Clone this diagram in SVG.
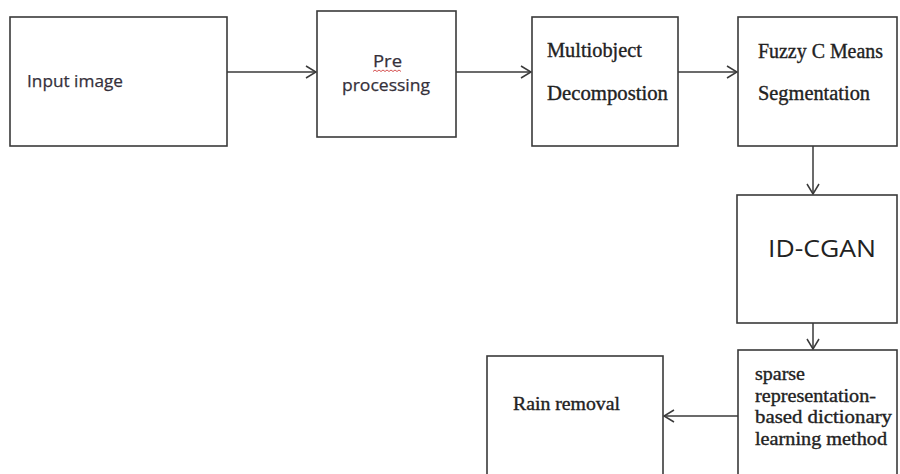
<svg xmlns="http://www.w3.org/2000/svg" width="900" height="474" viewBox="0 0 900 474">
<defs>
<style>
.box{fill:#fff;stroke:#3a3a3a;stroke-width:1.6}
.conn{fill:none;stroke:#3a3a3a;stroke-width:1.5}
.sans{font-family:"Open Sans","Liberation Sans",sans-serif;fill:#35303a;stroke:#35303a;stroke-width:0.25}
.serif{font-family:"Liberation Serif","DejaVu Serif",serif;fill:#222;stroke:#222;stroke-width:0.35}
</style>
<marker id="arr" viewBox="0 0 12 14" refX="11" refY="7" markerWidth="12" markerHeight="14" markerUnits="userSpaceOnUse" orient="auto">
<path d="M1 1 L11 7 L1 13" fill="none" stroke="#3a3a3a" stroke-width="1.5"/>
</marker>
</defs>
<rect width="900" height="474" fill="#fff"/>
<g id="input">
<rect class="box" x="10" y="17" width="217" height="129"/>
<text class="sans" x="27" y="87" font-size="17" textLength="96" lengthAdjust="spacingAndGlyphs">Input image</text>
</g>
<g id="preprocessing">
<rect class="box" x="317" y="11" width="139" height="126"/>
<text class="sans" x="373" y="67" font-size="17" textLength="29" lengthAdjust="spacingAndGlyphs">Pre</text>
<path d="M373 71.5 l2 -1.5 l2 1.5 l2 -1.5 l2 1.5 l2 -1.5 l2 1.5 l2 -1.5 l2 1.5 l2 -1.5 l2 1.5 l2 -1.5 l2 1.5 l2 -1.5 l2 1.5" fill="none" stroke="#d04040" stroke-width="0.9"/>
<text class="sans" x="342" y="91" font-size="17" textLength="88" lengthAdjust="spacingAndGlyphs">processing</text>
</g>
<g id="multiobject">
<rect class="box" x="532" y="17" width="146" height="129"/>
<text class="serif" x="547" y="57" font-size="20" textLength="95" lengthAdjust="spacingAndGlyphs">Multiobject</text>
<text class="serif" x="547" y="100" font-size="20" textLength="121" lengthAdjust="spacingAndGlyphs">Decompostion</text>
</g>
<g id="fcm">
<rect class="box" x="738" y="17" width="159" height="129"/>
<text class="serif" x="758" y="58" font-size="20" textLength="125" lengthAdjust="spacingAndGlyphs">Fuzzy C Means</text>
<text class="serif" x="758" y="100" font-size="20" textLength="112" lengthAdjust="spacingAndGlyphs">Segmentation</text>
</g>
<g id="idcgan">
<rect class="box" x="737" y="195" width="160" height="128"/>
<text class="sans" x="768" y="257" font-size="23" textLength="108" lengthAdjust="spacingAndGlyphs" style="fill:#222;stroke:none">ID-CGAN</text>
</g>
<g id="sparse">
<rect class="box" x="738" y="350" width="159" height="130"/>
<text class="serif" x="755" y="380" font-size="18" textLength="50" lengthAdjust="spacingAndGlyphs">sparse</text>
<text class="serif" x="755" y="402" font-size="18" textLength="121" lengthAdjust="spacingAndGlyphs">representation-</text>
<text class="serif" x="755" y="423" font-size="18" textLength="137" lengthAdjust="spacingAndGlyphs">based dictionary</text>
<text class="serif" x="755" y="445" font-size="18" textLength="132" lengthAdjust="spacingAndGlyphs">learning method</text>
</g>
<g id="rain">
<rect class="box" x="487" y="356" width="176" height="124"/>
<text class="serif" x="513" y="410" font-size="18" textLength="107" lengthAdjust="spacingAndGlyphs">Rain removal</text>
</g>
<g id="connectors">
<line class="conn" x1="227" y1="72" x2="316" y2="72" marker-end="url(#arr)"/>
<line class="conn" x1="456" y1="72" x2="531" y2="72" marker-end="url(#arr)"/>
<line class="conn" x1="678" y1="72" x2="737" y2="72" marker-end="url(#arr)"/>
<line class="conn" x1="813" y1="146" x2="813" y2="194" marker-end="url(#arr)"/>
<line class="conn" x1="813" y1="323" x2="813" y2="349" marker-end="url(#arr)"/>
<line class="conn" x1="738" y1="416" x2="664" y2="416" marker-end="url(#arr)"/>
</g>
</svg>
